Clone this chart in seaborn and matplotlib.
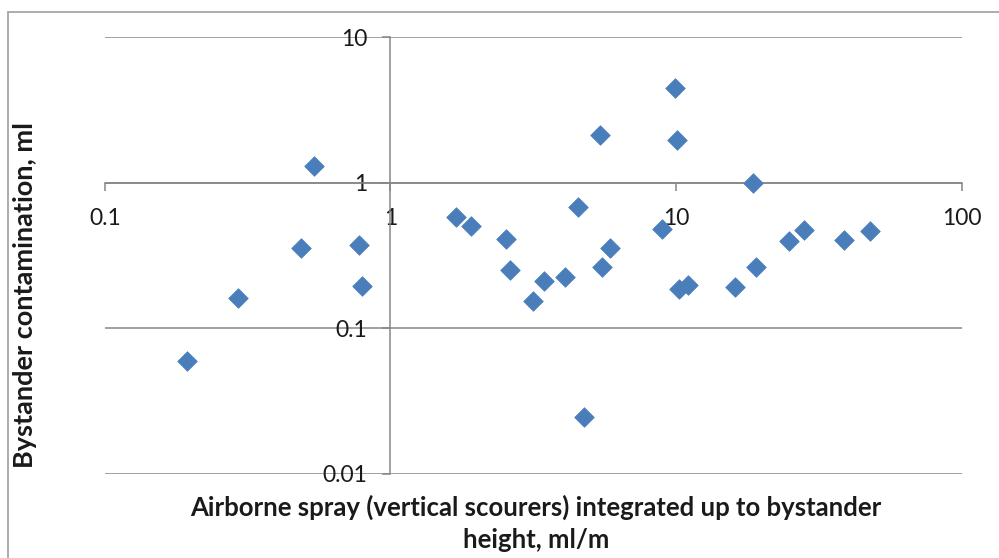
import matplotlib
matplotlib.use("Agg")
import matplotlib.pyplot as plt
from matplotlib.lines import Line2D
import seaborn as sns
import pandas as pd

# Data
airborne = [0.194, 0.293, 0.485, 0.540, 0.774, 0.793, 1.70, 1.91, 2.53, 2.62,
            3.15, 3.45, 4.10, 4.53, 4.75, 5.42, 5.51, 5.89, 8.93, 9.92,
            10.08, 10.27, 10.99, 16.1, 18.6, 19.1, 24.8, 28.1, 38.6, 47.6]
contamination = [0.060, 0.162, 0.359, 1.31, 0.373, 0.196, 0.581, 0.506, 0.410, 0.252,
                 0.155, 0.212, 0.227, 0.683, 0.0247, 2.13, 0.264, 0.359, 0.482, 4.49,
                 1.97, 0.186, 0.199, 0.192, 1.0, 0.266, 0.397, 0.475, 0.407, 0.466]
x_ticks = [0.1, 1, 10, 100]
x_tick_labels = ["0.1", "1", "10", "100"]
y_ticks = [0.01, 0.1, 1, 10]
y_tick_labels = ["0.01", "0.1", "1", "10"]
x_title = "Airborne spray (vertical scourers) integrated up to bystander\nheight, ml/m"
y_title = "Bystander contamination, ml"

df = pd.DataFrame({"x": airborne, "y": contamination})

sns.set_theme(style="white")
plt.rcParams["font.family"] = ["Lato", "DejaVu Sans"]

W, H = 999, 558
fig = plt.figure(figsize=(W / 100, H / 100), dpi=100)
left, right, top, bottom = 104.8, 961.7, 37.3, 474.0
ax = fig.add_axes([left / W, 1 - bottom / H, (right - left) / W, (bottom - top) / H])

grey = "#868686"
sns.scatterplot(data=df, x="x", y="y", ax=ax, marker="D", s=100,
                color="#4A7EBB", edgecolor="#4A7EBB", linewidth=0.5,
                zorder=4, clip_on=False, legend=False)

ax.set_xscale("log")
ax.set_yscale("log")
ax.set_xlim(0.1, 100)
ax.set_ylim(0.01, 10)
ax.minorticks_off()
ax.set_xticks(x_ticks, x_tick_labels)
ax.set_yticks(y_ticks, y_tick_labels)

ax.spines["left"].set_position(("data", 1))
ax.spines["bottom"].set_position(("data", 1))
ax.spines["top"].set_visible(False)
ax.spines["right"].set_visible(False)
for s in ("left", "bottom"):
    ax.spines[s].set_color(grey)
    ax.spines[s].set_linewidth(1.1)

ax.yaxis.grid(True, color=grey, linewidth=1.1)
ax.xaxis.grid(False)
ax.set_axisbelow(True)

ax.tick_params(axis="x", direction="out", length=5.8, width=1.1, color=grey,
               labelsize=16.5, labelcolor="#1a1a1a", pad=12.5, bottom=True)
ax.tick_params(axis="y", direction="out", length=5.8, width=1.1, color=grey,
               labelsize=16.5, labelcolor="#1a1a1a", pad=11, left=True)
ax.set_xlabel("")
ax.set_ylabel("")

fig.text(536 / W, 1 - 523 / H, x_title, ha="center", va="center",
         fontsize=18.5, fontweight="bold", color="#1a1a1a", linespacing=1.4)
fig.text(25 / W, 1 - 295 / H, y_title, ha="center", va="center", rotation=90,
         fontsize=19.5, fontweight="bold", color="#1a1a1a")

border = "#A6A6A6"
fig.add_artist(Line2D([8 / W, 8 / W], [0, 1 - 12 / H], transform=fig.transFigure,
                      color=border, linewidth=1.3))
fig.add_artist(Line2D([8 / W, 1], [1 - 12 / H, 1 - 12 / H], transform=fig.transFigure,
                      color=border, linewidth=1.3))

fig.savefig("out.png", dpi=100, facecolor="white")
